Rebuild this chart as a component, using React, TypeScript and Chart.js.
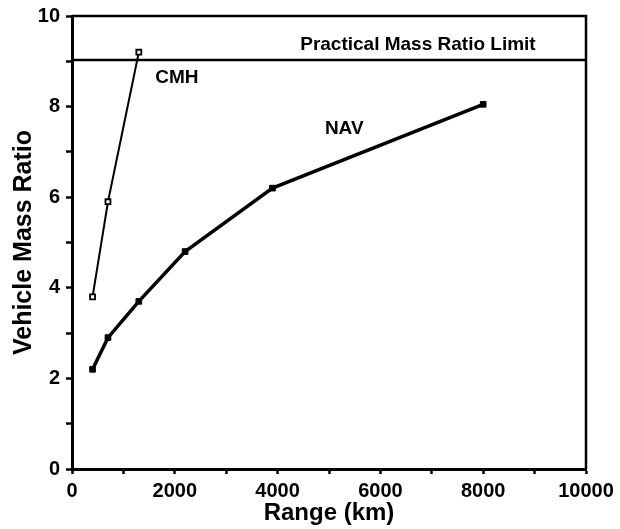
import React, { useEffect, useRef } from 'react';
import { Chart, registerables } from 'chart.js';

Chart.register(...registerables);

// ---- data ----
const cmhRange = [400, 700, 1300];
const cmhRatio = [3.8, 5.9, 9.2];
const navRange = [400, 700, 1300, 2200, 3900, 8000];
const navRatio = [2.2, 2.9, 3.7, 4.8, 6.2, 8.05];
const limitRange = [0, 10000];
const limitRatio = [9.03, 9.03];

const xTickLabels = ['0', '2000', '4000', '6000', '8000', '10000'];
const yTickLabels = ['0', '2', '4', '6', '8', '10'];

const noteTexts = ['CMH', 'NAV', 'Practical Mass Ratio Limit'];
const noteRange = [1620, 4920, 4440];
const noteRatio = [8.64, 7.52, 9.36];

const FONT = '"Liberation Sans", Arial, Helvetica, sans-serif';

const framePlugin = {
  id: 'frameAndNotes',
  afterDatasetsDraw(chart: any) {
    const { ctx, chartArea: a, scales } = chart;
    ctx.save();
    ctx.strokeStyle = '#000';
    ctx.lineWidth = 2.5;
    ctx.beginPath();
    ctx.moveTo(a.left, a.top);
    ctx.lineTo(a.right, a.top);
    ctx.lineTo(a.right, a.bottom);
    ctx.stroke();
    ctx.fillStyle = '#000';
    ctx.font = `bold 19px ${FONT}`;
    ctx.textAlign = 'left';
    ctx.textBaseline = 'middle';
    noteTexts.forEach((t, i) => {
      ctx.fillText(t, scales.x.getPixelForValue(noteRange[i]), scales.y.getPixelForValue(noteRatio[i]));
    });
    ctx.restore();
  },
};

export default function App() {
  const ref = useRef<HTMLCanvasElement | null>(null);
  useEffect(() => {
    if (!ref.current) return;
    Chart.defaults.font.family = FONT;
    Chart.defaults.color = '#000';
    const chart = new Chart(ref.current, {
      type: 'line',
      data: {
        datasets: [
          {
            label: 'Limit',
            data: limitRange.map((x, i) => ({ x, y: limitRatio[i] })),
            borderColor: '#000',
            borderWidth: 2.5,
            pointRadius: 0,
          },
          {
            label: 'CMH',
            data: cmhRange.map((x, i) => ({ x, y: cmhRatio[i] })),
            borderColor: '#000',
            borderWidth: 2,
            pointStyle: 'rect',
            pointRadius: 3.5,
            pointBackgroundColor: '#fff',
            pointBorderColor: '#000',
            pointBorderWidth: 1.8,
          },
          {
            label: 'NAV',
            data: navRange.map((x, i) => ({ x, y: navRatio[i] })),
            borderColor: '#000',
            borderWidth: 3.5,
            pointStyle: 'rect',
            pointRadius: 4,
            pointBackgroundColor: '#000',
            pointBorderColor: '#000',
            pointBorderWidth: 1,
          },
        ],
      },
      options: {
        responsive: false,
        animation: false,
        layout: { padding: { top: 8, right: 34, left: 0, bottom: 0 } },
        plugins: { legend: { display: false }, tooltip: { enabled: false } },
        scales: {
          x: {
            type: 'linear',
            min: 0,
            max: 10000,
            afterFit: (s: any) => { s.height = 60; },
            border: { display: true, width: 3, color: '#000' },
            grid: { display: true, drawOnChartArea: false, drawTicks: true, tickLength: 5, tickColor: '#000', tickWidth: 2.5 },
            ticks: {
              stepSize: 1000,
              autoSkip: false,
              maxRotation: 0,
              padding: 5,
              font: { size: 20, weight: 'bold' },
              callback: (v: any) => (xTickLabels.includes(String(v)) ? String(v) : ''),
            },
            title: { display: true, text: 'Range (km)', font: { size: 24, weight: 'bold' }, padding: { top: 0, bottom: 1 } },
          },
          y: {
            type: 'linear',
            min: 0,
            max: 10,
            afterFit: (s: any) => { s.width = 72; },
            border: { display: true, width: 3, color: '#000' },
            grid: { display: true, drawOnChartArea: false, drawTicks: true, tickLength: 6, tickColor: '#000', tickWidth: 2.5 },
            ticks: {
              stepSize: 1,
              autoSkip: false,
              padding: 6,
              font: { size: 20, weight: 'bold', lineHeight: 1 },
              callback: (v: any) => (yTickLabels.includes(String(v)) ? String(v) : ''),
            },
            title: { display: true, text: 'Vehicle Mass Ratio', font: { size: 25, weight: 'bold' }, padding: { top: 9, bottom: 0 } },
          },
        },
      },
      plugins: [framePlugin],
    } as any);
    return () => chart.destroy();
  }, []);
  return (
    <div style={{ position: 'absolute', left: 0, top: 0, width: 620, height: 529, background: '#fff' }}>
      <canvas ref={ref} width={620} height={529} style={{ display: 'block' }} />
    </div>
  );
}
